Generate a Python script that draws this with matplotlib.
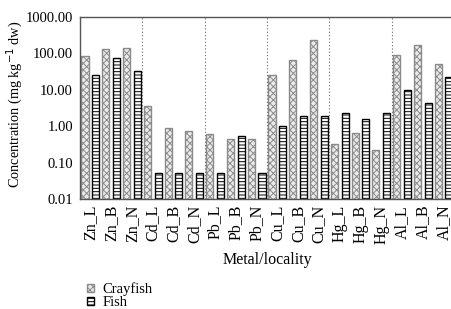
import numpy as np
import matplotlib.pyplot as plt
import matplotlib as mpl

mpl.rcParams['font.family'] = ['Liberation Serif', 'DejaVu Serif']
mpl.rcParams['hatch.linewidth'] = 0.7

labels = ['Zn_L', 'Zn_B', 'Zn_N', 'Cd_L', 'Cd_B', 'Cd_N', 'Pb_L', 'Pb_B', 'Pb_N',
          'Cu_L', 'Cu_B', 'Cu_N', 'Hg_L', 'Hg_B', 'Hg_N', 'Al_L', 'Al_B', 'Al_N']
crayfish = [86, 128, 137, 3.6, 0.88, 0.74, 0.60, 0.44, 0.44,
            25, 67, 227, 0.32, 0.64, 0.22, 90, 172, 50]
fish = [25.4, 73, 33, 0.043, 0.043, 0.043, 0.043, 0.53, 0.043,
        1.0, 1.88, 1.95, 2.36, 1.58, 2.27, 9.9, 4.35, 22.9]

fig = plt.figure(figsize=(4.51, 3.09), dpi=100)
ax = fig.add_axes([80/451, 1-199.3/309, 374/451, (199.3-16.8)/309])

x = np.arange(len(labels))
w = 0.34
off = 0.26
ax.bar(x - off, crayfish, w, bottom=0.01, facecolor='#ebebeb', edgecolor='#8a8a8a',
       hatch='xxxxx', linewidth=1.0, label='Crayfish')
ax.bar(x + off, fish, w, bottom=0.01, facecolor='white', edgecolor='black',
       hatch='-----', linewidth=1.0, label='Fish')

for s in [2.5, 5.5, 8.5, 11.5, 14.5]:
    ax.axvline(s, color='#666666', linestyle=(0, (1, 2)), linewidth=0.8)

ax.set_yscale('log')
ax.set_ylim(0.01, 1000)
ax.set_xlim(-0.5, 17.5)
ax.set_yticks([0.01, 0.1, 1, 10, 100, 1000])
ax.set_yticklabels(['0.01', '0.10', '1.00', '10.00', '100.00', '1000.00'])
ax.minorticks_off()
ax.set_xticks(x)
ax.set_xticklabels(labels, rotation=90)
ax.tick_params(axis='y', length=0, labelsize=10.5, pad=5)
ax.tick_params(axis='x', length=0, labelsize=11.5, pad=4)
ax.set_ylabel('Concentration (mg kg$^{-1}$ dw)', fontsize=10.3)
ax.yaxis.set_label_coords((25-80)/374, (199.3-104)/182.5)
ax.set_xlabel('Metal/locality', fontsize=11.5, labelpad=6)

for s in ['left', 'bottom', 'top']:
    ax.spines[s].set_color('#555555')
    ax.spines[s].set_linewidth(1.0)
ax.spines['right'].set_visible(False)

h, l = ax.get_legend_handles_labels()
fig.legend(h, l, loc='upper left', bbox_to_anchor=(80/451, 1-275/309), frameon=False,
           fontsize=10.5, handlelength=0.45, handleheight=0.45, handletextpad=0.6,
           labelspacing=0.0, borderpad=0)

fig.savefig('out.png', dpi=100)
